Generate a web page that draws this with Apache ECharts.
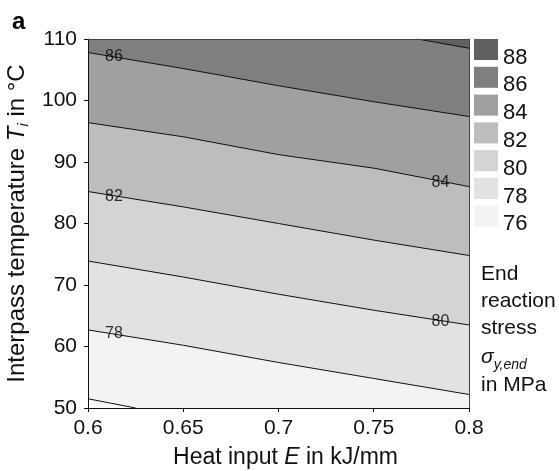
<!DOCTYPE html>
<html lang="en">
<head>
    <meta charset="utf-8">
    <title>End reaction stress contour</title>
    <script src="https://cdn.jsdelivr.net/npm/echarts@6/dist/echarts.min.js"></script>
    <style>
        html, body {margin: 0; padding: 0; background: #fff;}
    </style>
</head>
<body>
<div id="Contour" style="width: 559px;height:471px;"></div>

<script>
    // contour levels (MPa) and fill colour of the band above each level
    const levels = [76, 78, 80, 82, 84, 86, 88];
    const bandColors = ['#f3f3f3', '#e2e2e2', '#d4d4d4', '#bdbdbd', '#a0a0a0', '#7f7f7f', '#616161'];
    const belowColor = '#fcfcfc';

    // contour lines, heat input E (x) vs interpass temperature Ti (y)
    const xs = [0.6, 0.65, 0.7, 0.75, 0.8];
    const c76x = [0.6, 0.625];
    const c76y = [51.5, 50];
    const c78 = [62.7, 60.2, 57.4, 54.8, 52.2];
    const c80 = [73.9, 71.3, 68.5, 65.9, 63.5];
    const c82 = [85.2, 82.7, 80.0, 77.3, 74.8];
    const c84 = [96.4, 94.1, 91.2, 89.0, 86.0];
    const c86 = [107.8, 105.2, 102.4, 99.8, 97.4];
    const c88x = [0.773, 0.8];
    const c88y = [110, 108.5];

    // inline contour labels
    const labelX = [0.6136, 0.785, 0.6136, 0.785, 0.6136];
    const labelY = [107.1, 86.6, 84.4, 64.0, 62.1];
    const labelText = ['86', '84', '82', '80', '78'];

    const xTicks = [0.6, 0.65, 0.7, 0.75, 0.8];
    const yTicks = [50, 60, 70, 80, 90, 100, 110];

    const FONT = 'Liberation Sans, Arial, sans-serif';

    function zip(a, b) {
        let out = [];
        for (let i = 0; i < a.length; i++) {
            out.push([a[i], b[i]]);
        }
        return out;
    }

    let lines = [
        zip(c76x, c76y),
        zip(xs, c78),
        zip(xs, c80),
        zip(xs, c82),
        zip(xs, c84),
        zip(xs, c86),
        zip(c88x, c88y)
    ];

    let series = [];
    for (let i = 0; i < levels.length; i++) {
        series.push({
            name: String(levels[i]),
            type: 'line',
            data: lines[i],
            showSymbol: false,
            silent: true,
            z: 2,
            lineStyle: {color: '#111', width: 1},
            itemStyle: {color: bandColors[i]},
            // lowest contour: shade the corner under it, others: shade band above
            areaStyle: i === 0
                ? {origin: 'start', color: belowColor, opacity: 1}
                : {origin: 'end', color: bandColors[i], opacity: 1}
        });
    }

    let labelData = [];
    for (let i = 0; i < labelText.length; i++) {
        labelData.push([labelX[i], labelY[i], labelText[i]]);
    }
    series.push({
        name: 'labels',
        type: 'scatter',
        data: labelData,
        symbolSize: 0,
        silent: true,
        z: 5,
        label: {
            show: true,
            position: 'inside',
            formatter: function (p) {
                return p.value[2];
            },
            fontFamily: FONT,
            fontSize: 16,
            color: '#000'
        }
    });

    let legendData = [];
    for (let i = levels.length - 1; i >= 0; i--) {
        legendData.push({
            name: String(levels[i]),
            icon: 'rect',
            itemStyle: {color: bandColors[i], borderWidth: 0}
        });
    }

    let myChart = echarts.init(document.getElementById('Contour'));
    let option = {
        animation: false,
        backgroundColor: '#fff',
        grid: {
            left: 88, top: 39, right: 90, bottom: 63,
            outerBoundsMode: 'none',
            containLabel: false,
            show: true,
            backgroundColor: bandColors[0],
            borderWidth: 0
        },
        legend: {
            orient: 'vertical',
            left: 474,
            top: 39,
            padding: 0,
            itemWidth: 24,
            itemHeight: 21,
            itemGap: -1.7,
            selectedMode: false,
            data: legendData,
            formatter: '{t|{name}}',
            textStyle: {
                fontFamily: FONT,
                fontSize: 22,
                color: '#111',
                rich: {
                    t: {fontFamily: FONT, fontSize: 22, color: '#111', padding: [16, 0, 0, 0]}
                }
            }
        },
        xAxis: [
            {
                type: 'value',
                min: xTicks[0],
                max: xTicks[xTicks.length - 1],
                interval: 0.05,
                z: 10,
                name: 'Heat input {i|E} in kJ/mm',
                nameLocation: 'middle',
                nameGap: 38,
                nameTextStyle: {
                    fontFamily: FONT, fontSize: 23, color: '#111', padding: [0, 0, 0, 14],
                    rich: {i: {fontFamily: FONT, fontSize: 23, fontStyle: 'italic', color: '#111'}}
                },
                axisLine: {show: true, lineStyle: {color: '#111', width: 1}},
                axisTick: {show: true, length: 4, lineStyle: {color: '#111'}},
                axisLabel: {
                    fontFamily: FONT, fontSize: 21, color: '#111', margin: 10,
                    formatter: function (v) {
                        return String(+v.toFixed(2));
                    }
                },
                splitLine: {show: false}
            },
            {
                type: 'value',
                position: 'top',
                min: xTicks[0],
                max: xTicks[xTicks.length - 1],
                z: 10,
                axisLine: {show: true, lineStyle: {color: '#444', width: 1}},
                axisTick: {show: false},
                axisLabel: {show: false},
                splitLine: {show: false}
            }
        ],
        yAxis: [
            {
                type: 'value',
                min: yTicks[0],
                max: yTicks[yTicks.length - 1],
                interval: 10,
                z: 10,
                name: 'Interpass temperature {i|T}{s|i} in °C',
                nameLocation: 'middle',
                nameGap: 48,
                nameTextStyle: {
                    fontFamily: FONT, fontSize: 24, color: '#111', lineHeight: 28,
                    rich: {
                        i: {fontFamily: FONT, fontSize: 24, fontStyle: 'italic', color: '#111', lineHeight: 28},
                        s: {fontFamily: FONT, fontSize: 15, fontStyle: 'italic', color: '#111', lineHeight: 15, verticalAlign: 'bottom'}
                    }
                },
                axisLine: {show: true, lineStyle: {color: '#111', width: 1}},
                axisTick: {show: true, length: 4, lineStyle: {color: '#111'}},
                axisLabel: {fontFamily: FONT, fontSize: 21, color: '#111', margin: 11},
                splitLine: {show: false}
            },
            {
                type: 'value',
                position: 'right',
                min: yTicks[0],
                max: yTicks[yTicks.length - 1],
                z: 10,
                axisLine: {show: true, lineStyle: {color: '#444', width: 1}},
                axisTick: {show: false},
                axisLabel: {show: false},
                splitLine: {show: false}
            }
        ],
        graphic: [
            {
                type: 'text',
                left: 12,
                top: 10,
                style: {text: 'a', font: 'bold 24px ' + FONT, fill: '#000'}
            },
            {
                type: 'text',
                left: 481,
                top: 261,
                style: {
                    text: 'End\nreaction\nstress\n{g|σ}{s|y,end}\nin MPa',
                    font: '21px ' + FONT,
                    fill: '#111',
                    lineHeight: 27,
                    rich: {
                        g: {font: 'italic 21px ' + FONT, fill: '#111', lineHeight: 30},
                        s: {font: 'italic 14px ' + FONT, fill: '#111', lineHeight: 14, verticalAlign: 'bottom'}
                    }
                }
            }
        ],
        series: series
    };
    myChart.setOption(option);
</script>
</body>
</html>
